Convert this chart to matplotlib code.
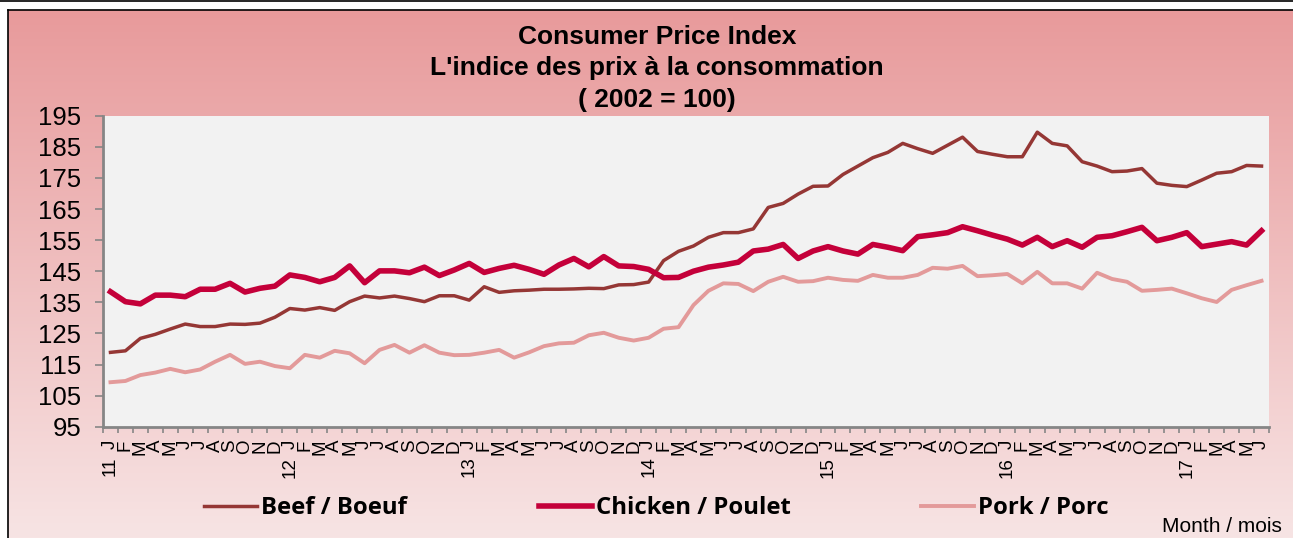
import numpy as np
import matplotlib
matplotlib.use("Agg")
import matplotlib.pyplot as plt
from matplotlib.lines import Line2D

# ---------------- data ----------------
months = ["J", "F", "M", "A", "M", "J", "J", "A", "S", "O", "N", "D"]
years = ["11", "12", "13", "14", "15", "16", "17"]
n_points = 78  # Jan 2011 .. Jun 2017

beef = [118.9, 119.4, 123.4, 124.7, 126.4, 128.0, 127.2, 127.2, 128.0, 127.9,
        128.3, 130.2, 133.0, 132.5, 133.3, 132.4, 135.2, 137.0, 136.4, 137.0,
        136.2, 135.2, 137.1, 137.1, 135.7, 140.0, 138.2, 138.7, 138.9, 139.2,
        139.2, 139.3, 139.5, 139.4, 140.6, 140.7, 141.5, 148.4, 151.4, 153.1,
        155.9, 157.4, 157.4, 158.6, 165.5, 166.8, 169.8, 172.3, 172.4, 176.1,
        178.8, 181.5, 183.2, 186.1, 184.4, 182.9, 185.5, 188.1, 183.5, 182.6,
        181.8, 181.8, 189.7, 186.1, 185.3, 180.2, 178.8, 177.0, 177.2, 178.0,
        173.3, 172.6, 172.2, 174.3, 176.5, 177.0, 179.0, 178.8]
chicken = [138.4, 135.2, 134.5, 137.3, 137.3, 136.8, 139.2, 139.2, 141.1, 138.3,
           139.5, 140.2, 143.8, 143.0, 141.6, 143.0, 146.7, 141.3, 145.1, 145.1,
           144.5, 146.3, 143.6, 145.4, 147.5, 144.6, 145.9, 146.9, 145.6, 144.0,
           147.0, 149.1, 146.4, 149.7, 146.7, 146.5, 145.6, 142.9, 143.0, 145.0,
           146.3, 147.0, 147.9, 151.5, 152.1, 153.6, 149.1, 151.5, 152.9, 151.5,
           150.5, 153.6, 152.7, 151.6, 156.1, 156.7, 157.4, 159.3, 158.0, 156.6,
           155.3, 153.4, 155.9, 152.9, 154.8, 152.7, 155.9, 156.4, 157.7, 159.1,
           154.8, 155.9, 157.4, 152.9, 153.7, 154.5, 153.4, 158.0]
pork = [109.3, 109.7, 111.6, 112.4, 113.6, 112.5, 113.4, 115.9, 118.1, 115.2,
        115.9, 114.5, 113.8, 118.1, 117.2, 119.4, 118.6, 115.4, 119.7, 121.3,
        118.8, 121.2, 118.8, 118.0, 118.1, 118.8, 119.7, 117.2, 118.9, 120.9,
        121.8, 122.0, 124.4, 125.2, 123.6, 122.7, 123.6, 126.5, 127.0, 134.1,
        138.7, 141.1, 140.9, 138.6, 141.6, 143.2, 141.6, 141.8, 142.9, 142.2,
        141.9, 143.8, 142.9, 142.9, 143.8, 146.1, 145.8, 146.7, 143.4, 143.7,
        144.1, 141.1, 144.8, 141.1, 141.1, 139.4, 144.5, 142.5, 141.6, 138.7,
        139.0, 139.4, 137.9, 136.3, 135.1, 139.0, 140.5, 141.9]
series_names = ["Beef / Boeuf", "Chicken / Poulet", "Pork / Porc"]
yticks = list(range(95, 196, 10))

# ---------------- styles ----------------
W, H = 1293, 538
c_beef, c_chicken, c_pork = "#953735", "#C4003A", "#E39A9A"
grey = "#868686"

fig = plt.figure(figsize=(W / 100, H / 100), dpi=100)
fig.patch.set_facecolor("white")

# background gradient
bg = fig.add_axes([8 / W, 0, 1 - 8 / W, (H - 10) / H], zorder=-10)
top = np.array([232, 154, 155]) / 255
bot = np.array([247, 228, 228]) / 255
t = np.linspace(0, 1, H - 10)[:, None]
grad = top[None, :] * (1 - t) + bot[None, :] * t
img = np.repeat(grad[:, None, :], 4, axis=1)
bg.imshow(img, aspect="auto", extent=[0, 1, 0, 1], interpolation="nearest")
bg.set_xlim(0, 1); bg.set_ylim(0, 1)
bg.axis("off")

# frame lines
fig.add_artist(Line2D([0, 1], [1 - 0.6 / H, 1 - 0.6 / H], color="black", lw=1.2,
                      transform=fig.transFigure))
fig.add_artist(Line2D([8 / W, 1], [1 - 10 / H, 1 - 10 / H], color="black", lw=1.2,
                      transform=fig.transFigure))
fig.add_artist(Line2D([8 / W, 8 / W], [0, 1 - 10 / H], color="black", lw=1.2,
                      transform=fig.transFigure))

# main axes
left, right = 103 / W, 1269 / W
bottom, topy = (H - 426.7) / H, (H - 115.7) / H
ax = fig.add_axes([left, bottom, right - left, topy - bottom])
ax.set_facecolor("#F2F2F2")

x = np.arange(n_points)
ax.plot(x, beef, color=c_beef, lw=2.5, solid_joinstyle="round", zorder=3)
ax.plot(x, chicken, color=c_chicken, lw=4.0, solid_joinstyle="round", zorder=4)
ax.plot(x, pork, color=c_pork, lw=2.8, solid_joinstyle="round", zorder=2)

ax.set_xlim(-0.5, n_points - 0.5)
ax.set_ylim(95, 195)
ax.set_yticks(yticks)
ax.set_yticklabels([str(v) for v in yticks], fontsize=18.5, family="Liberation Sans")
ax.tick_params(axis="y", length=5.5, width=1.2, color=grey, pad=10)

for s in ["top", "right"]:
    ax.spines[s].set_visible(False)
for s in ["left", "bottom"]:
    ax.spines[s].set_color(grey)
    ax.spines[s].set_linewidth(2.0)

month_labels = [months[i % 12] for i in range(n_points)]
ax.set_xticks(x)
ax.set_xticklabels(month_labels, rotation=90, fontsize=13.5,
                   family="Liberation Sans", va="top", ha="center")
ax.tick_params(axis="x", which="major", length=0, pad=9)
ax.set_xticks(np.arange(-0.5, n_points, 1), minor=True)
ax.tick_params(axis="x", which="minor", length=4.5, width=1.2, color=grey)

ytr = ax.get_xaxis_transform()
for k, yr in enumerate(years):
    ax.text(k * 12, -30 / 311, yr, rotation=90, ha="center", va="top",
            fontsize=13.5, family="Liberation Sans", transform=ytr)

# titles
title_lines = ["Consumer Price Index", "L'indice des prix à la consommation", "( 2002 = 100)"]
for i, tl in enumerate(title_lines):
    fig.text(657 / W, 1 - (37 + 31.5 * i) / H, tl, ha="center", va="center",
             fontsize=19, fontweight="bold", family="Liberation Sans")

# legends
handles = [Line2D([], [], color=c_beef, lw=2.5),
           Line2D([], [], color=c_chicken, lw=4.0),
           Line2D([], [], color=c_pork, lw=2.8)]
leg_x = [204, 539, 921]
for h, name, lx in zip(handles, series_names, leg_x):
    fig.legend([h], [name], loc="center left", bbox_to_anchor=(lx / W, 1 - 508 / H),
               frameon=False, borderpad=0, borderaxespad=0, handlelength=2.2,
               handletextpad=0.2,
               prop={"family": "Open Sans", "weight": "bold", "size": 17.2})

fig.text(1282 / W, 1 - 527 / H, "Month / mois", ha="right", va="center",
         fontsize=15, family="Liberation Sans")

fig.savefig("out.png", dpi=100)
